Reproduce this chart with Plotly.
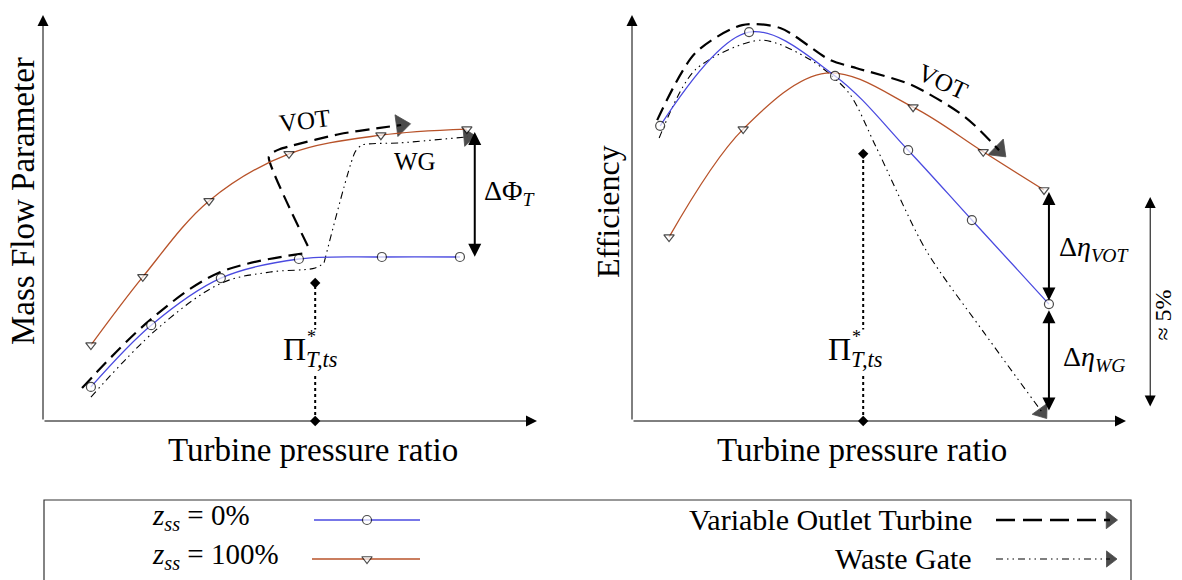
import plotly.graph_objects as go

# ---------------- data (schematic units, axes run 0..100) ----------------
# Left panel: Mass Flow Parameter vs Turbine pressure ratio
mfp_z0_x = [9.7, 21.9, 36.0, 51.8, 68.6, 84.4]
mfp_z0_y = [8.4, 23.6, 35.2, 39.9, 40.4, 40.4]
mfp_z100_x = [9.7, 20.2, 33.6, 49.8, 68.4, 85.8]
mfp_z100_y = [18.7, 35.5, 54.2, 65.8, 70.4, 71.9]
mfp_vot_low_x = [7.9, 21.7, 35.6, 53.6]
mfp_vot_low_y = [8.1, 24.9, 36.5, 41.4]
mfp_vot_up_x = [53.6, 45.7, 46.6, 48.0, 50.0, 60.1, 68.2, 72.5]
mfp_vot_up_y = [43.1, 65.0, 66.2, 67.0, 67.7, 70.7, 72.2, 72.9]
mfp_wg_low_x = [9.7, 23.3, 36.2, 46.0, 55.1, 56.9]
mfp_wg_low_y = [5.9, 22.9, 34.0, 36.7, 37.7, 39.0]
mfp_wg_up_x = [56.9, 63.2, 64.6, 72.3, 86.0]
mfp_wg_up_y = [39.0, 66.3, 68.0, 68.5, 70.0]
mfp_pi_x = [55.1, 55.1]
mfp_pi_y = [0.0, 34.0]
mfp_dphi = [87.4, 71.2, 40.1]          # x, top, bottom

# Right panel: Efficiency vs Turbine pressure ratio
eff_z0_x = [5.7, 23.7, 41.1, 55.9, 68.8, 84.4]
eff_z0_y = [72.7, 95.8, 85.0, 66.7, 49.5, 28.8]
eff_z100_x = [7.5, 22.5, 39.3, 56.9, 71.1, 83.4]
eff_z100_y = [45.3, 71.9, 85.7, 77.3, 66.3, 56.9]
eff_z100_marked = [True, True, False, True, True, True]
eff_vot_x = [5.1, 12.8, 22.3, 30.0, 40.1, 45.5, 56.5, 67.4, 74.3]
eff_vot_y = [74.1, 90.6, 97.5, 96.8, 88.9, 86.9, 82.8, 74.9, 66.7]
eff_wg_x = [5.5, 12.8, 26.1, 36.2, 43.9, 49.4, 59.5, 71.3, 83.0]
eff_wg_y = [69.7, 86.5, 93.8, 88.9, 80.8, 67.5, 42.1, 21.7, 2.2]
eff_pi_x = [46.8, 46.8]
eff_pi_y = [0.0, 65.8]
eff_dvot = [84.4, 56.4, 29.3]
eff_dwg = [84.4, 27.3, 2.2]
eff_5pct = [104.9, 55.2, 3.2]

BLUE = "#4a4ae0"
ORANGE = "#b8532a"
SERIF = "Liberation Serif"
W, H = 1182, 580
X1 = [43 / W, 537 / W]
X2 = [632 / W, 1126 / W]
YD = [1 - 421 / H, 1 - 15 / H]
PX_PER_UNIT_Y = (YD[1] - YD[0]) * H / 100

fig = go.Figure()


def curve(x, y, color, xa, ya, symbol, sizes=None):
    n = len(x)
    sz = sizes if sizes is not None else [9] * n
    fig.add_trace(go.Scatter(
        x=x, y=y, xaxis=xa, yaxis=ya, mode="lines+markers", cliponaxis=False,
        line=dict(color=color, width=1.3, shape="spline", smoothing=1.0),
        marker=dict(symbol=symbol, size=sz, color="white",
                    line=dict(color="black", width=[1.2 if s > 0 else 0 for s in sz]))))


def path(x, y, dash, width, xa, ya, arrow=True, smoothing=1.0, asize=19):
    n = len(x)
    fig.add_trace(go.Scatter(
        x=x, y=y, xaxis=xa, yaxis=ya, mode="lines+markers", cliponaxis=False,
        line=dict(color="black", width=width, dash=dash, shape="spline", smoothing=smoothing),
        marker=dict(symbol="triangle-up", angleref="previous",
                    size=[0] * (n - 1) + [asize if arrow else 0], color="black",
                    line=dict(width=[0] * (n - 1) + [0.8], color="black"))))


VOT_DASH = "14px,7px"
WG_DASH = "7px,4px,1.5px,4px,1.5px,4px"

# left panel curves
path(mfp_vot_low_x, mfp_vot_low_y, VOT_DASH, 2.2, "x", "y", arrow=False)
path(mfp_vot_up_x, mfp_vot_up_y, VOT_DASH, 2.2, "x", "y", smoothing=0.6)
path(mfp_wg_low_x, mfp_wg_low_y, WG_DASH, 1.1, "x", "y", arrow=False)
path(mfp_wg_up_x, mfp_wg_up_y, WG_DASH, 1.1, "x", "y", smoothing=0.6, asize=16)
curve(mfp_z100_x, mfp_z100_y, ORANGE, "x", "y", "triangle-down")
curve(mfp_z0_x, mfp_z0_y, BLUE, "x", "y", "circle")

# right panel curves
path(eff_vot_x, eff_vot_y, VOT_DASH, 2.2, "x2", "y2", smoothing=0.8)
path(eff_wg_x, eff_wg_y, WG_DASH, 1.1, "x2", "y2", smoothing=0.8, asize=16)
curve(eff_z100_x, eff_z100_y, ORANGE, "x2", "y2", "triangle-down",
      sizes=[9 if m else 0 for m in eff_z100_marked])
curve(eff_z0_x, eff_z0_y, BLUE, "x2", "y2", "circle")

# dotted design-point lines with diamond ends
for xs, ys, xa, ya in [(mfp_pi_x, mfp_pi_y, "x", "y"), (eff_pi_x, eff_pi_y, "x2", "y2")]:
    fig.add_trace(go.Scatter(x=xs, y=ys, xaxis=xa, yaxis=ya, mode="lines+markers",
                             cliponaxis=False,
                             line=dict(color="black", width=2, dash="dot"),
                             marker=dict(symbol="diamond", size=8, color="black")))

ann = []


def arrow(xa, ya, x, y, ax, ay, width=1.0, size=2.2, both=False):
    ann.append(dict(xref=xa, yref=ya, axref=xa, ayref=ya, x=x, y=y, ax=ax, ay=ay,
                    text="", showarrow=True, arrowhead=2, arrowsize=size,
                    arrowwidth=width, arrowcolor="black",
                    arrowside="end+start" if both else "end"))


# axes with arrows
for xa, ya in [("x", "y"), ("x2", "y2")]:
    arrow(xa, ya, 100, 0, 0, 0)
    arrow(xa, ya, 0, 100, 0, 0)

arrow("x", "y", mfp_dphi[0], mfp_dphi[1], mfp_dphi[0], mfp_dphi[2], width=2, size=1.3, both=True)
arrow("x2", "y2", eff_dvot[0], eff_dvot[1], eff_dvot[0], eff_dvot[2], width=2, size=1.3, both=True)
arrow("x2", "y2", eff_dwg[0], eff_dwg[1], eff_dwg[0], eff_dwg[2], width=2, size=1.3, both=True)


# the "≈ 5%" span lies right of the efficiency axis range -> place it in paper units
def px2(v):
    return X2[0] + v / 100 * (X2[1] - X2[0])


def py2(v):
    return YD[0] + v / 100 * (YD[1] - YD[0])


ann.append(dict(xref="paper", yref="paper", axref="pixel", ayref="pixel",
                x=px2(eff_5pct[0]), y=py2(eff_5pct[1]), ax=0,
                ay=(eff_5pct[1] - eff_5pct[2]) * PX_PER_UNIT_Y,
                text="", showarrow=True, arrowhead=2, arrowsize=2.2, arrowwidth=1,
                arrowcolor="black", arrowside="end+start"))


def text(xa, ya, x, y, t, size=26, angle=0, xanchor="center", font=SERIF, bg=None):
    d = dict(xref=xa, yref=ya, x=x, y=y, text=t, showarrow=False, textangle=angle,
             xanchor=xanchor, yanchor="middle", font=dict(family=font, size=size, color="black"))
    if bg:
        d["bgcolor"] = bg
    ann.append(d)


# axis titles
text("paper", "paper", 313 / W, 1 - 450 / H, "Turbine pressure ratio", 33)
text("paper", "paper", 862 / W, 1 - 450 / H, "Turbine pressure ratio", 33)
text("paper", "paper", 23 / W, 1 - 201 / H, "Mass Flow Parameter", 33, angle=-90)
text("paper", "paper", 608 / W, 1 - 211 / H, "Efficiency", 32, angle=-90)

# in-plot labels
text("x", "y", 53.0, 73.9, "VOT", 25, angle=-7)
text("x", "y", 75.3, 63.8, "WG", 25)
text("x2", "y2", 62.8, 83.5, "VOT", 25, angle=25)
text("x", "y", 88.9, 56.2, "ΔΦ<sub><i>T</i></sub>", 28, xanchor="left")
text("x2", "y2", 86.0, 42.4, "Δ<i>η</i><sub><i>VOT</i></sub>", 28, xanchor="left")
text("x2", "y2", 86.8, 15.5, "Δ<i>η</i><sub><i>WG</i></sub>", 28, xanchor="left")
text("paper", "paper", px2(107.4), py2(26.1), "≈ 5%", 24, angle=-90)
text("x", "y", 48.2, 17.0, "Π<sub><i>T,ts</i></sub>", 32, xanchor="left", bg="white")
text("x", "y", 54.3, 20.6, "*", 18)
text("x2", "y2", 39.3, 17.0, "Π<sub><i>T,ts</i></sub>", 32, xanchor="left", bg="white")
text("x2", "y2", 45.4, 20.6, "*", 18)

# ---------------- custom legend ----------------
leg_rows = [520, 559]
fig.add_trace(go.Scatter(x=[314, 367, 420], y=[leg_rows[0]] * 3, xaxis="x3", yaxis="y3",
                         mode="lines+markers", line=dict(color=BLUE, width=1.5),
                         marker=dict(symbol="circle", size=[0, 9, 0], color="white",
                                     line=dict(color="black", width=[0, 1.2, 0]))))
fig.add_trace(go.Scatter(x=[312, 367, 420], y=[leg_rows[1]] * 3, xaxis="x3", yaxis="y3",
                         mode="lines+markers", line=dict(color=ORANGE, width=1.5),
                         marker=dict(symbol="triangle-down", size=[0, 9, 0], color="white",
                                     line=dict(color="black", width=[0, 1.2, 0]))))
fig.add_trace(go.Scatter(x=[996, 1110], y=[leg_rows[0]] * 2, xaxis="x3", yaxis="y3",
                         mode="lines+markers", line=dict(color="black", width=2.4, dash="19px,8px"),
                         marker=dict(symbol="triangle-up", angleref="previous", size=[0, 15],
                                     color="black", line=dict(width=[0, 0.8], color="black"))))
fig.add_trace(go.Scatter(x=[996, 1110], y=[leg_rows[1]] * 2, xaxis="x3", yaxis="y3",
                         mode="lines+markers", line=dict(color="black", width=1.1, dash=WG_DASH),
                         marker=dict(symbol="triangle-up", angleref="previous", size=[0, 14],
                                     color="black", line=dict(width=[0, 0.8], color="black"))))
NB = "\u00a0"
text("x3", "y3", 150, leg_rows[0] - 3, f"<i>z</i><sub><i>ss</i></sub>{NB}={NB}0%", 29, xanchor="left")
text("x3", "y3", 150, leg_rows[1] - 3, f"<i>z</i><sub><i>ss</i></sub>{NB}={NB}100%", 29, xanchor="left")
ann.append(dict(xref="x3", yref="y3", x=974, y=leg_rows[0] - 1, text="Variable Outlet Turbine",
                showarrow=False, xanchor="right", font=dict(family=SERIF, size=30, color="black")))
ann.append(dict(xref="x3", yref="y3", x=974, y=leg_rows[1] - 1, text="Waste Gate",
                showarrow=False, xanchor="right", font=dict(family=SERIF, size=30, color="black")))

hidden = dict(visible=False, showgrid=False, zeroline=False, fixedrange=True)
fig.update_layout(
    width=W, height=H, margin=dict(l=0, r=0, t=0, b=0),
    paper_bgcolor="white", plot_bgcolor="white", showlegend=False,
    xaxis=dict(domain=X1, range=[0, 100], anchor="y", **hidden),
    yaxis=dict(domain=YD, range=[0, 100], anchor="x", **hidden),
    xaxis2=dict(domain=X2, range=[0, 100], anchor="y2", **hidden),
    yaxis2=dict(domain=YD, range=[0, 100], anchor="x2", **hidden),
    xaxis3=dict(domain=[0, 1], range=[0, W], anchor="y3", **hidden),
    yaxis3=dict(domain=[0, 90 / H], range=[580, 490], anchor="x3", **hidden),
    annotations=ann,
    shapes=[dict(type="rect", xref="paper", yref="paper", x0=44 / W, x1=1131 / W,
                 y0=-0.05, y1=1 - 500 / H, line=dict(color="#333", width=1.2),
                 fillcolor="rgba(0,0,0,0)")],
)

fig.write_html("out.html", config={"displayModeBar": False},
               post_script="document.body.style.margin='0';document.body.style.overflow='hidden';")
